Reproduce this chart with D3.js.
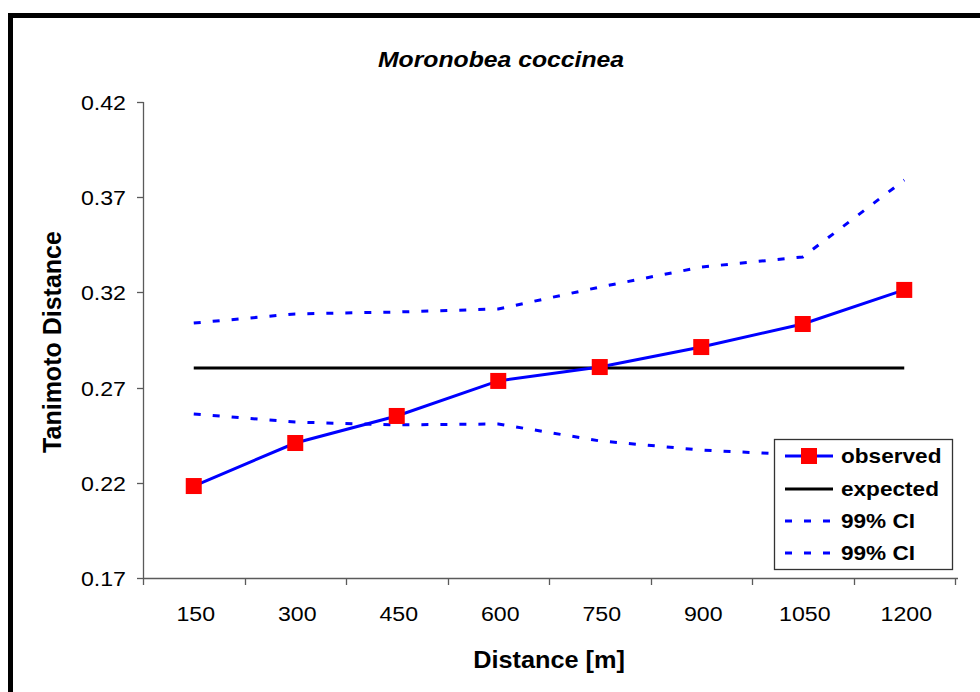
<!DOCTYPE html>
<html><head><meta charset="utf-8">
<script src="https://cdnjs.cloudflare.com/ajax/libs/d3/7.8.5/d3.min.js"></script>
<style>body{margin:0;background:#fff}svg{display:block}text{font-family:Arial,"Liberation Sans",sans-serif}</style>
</head><body><div id="chart"></div>
<script>
const categories = ["150","300","450","600","750","900","1050","1200"];
const observed = [0.2183,0.2409,0.2551,0.2735,0.2808,0.2913,0.3034,0.3213];
const expected = [0.2803,0.2803,0.2803,0.2803,0.2803,0.2803,0.2803,0.2803];
const ciUpper = [0.3039,0.3087,0.3097,0.3113,0.3228,0.3333,0.3386,0.3790];
const ciLower = [0.2561,0.2519,0.2504,0.2509,0.2420,0.2372,0.2346,0.2310];
const yTicks = [0.17,0.22,0.27,0.32,0.37,0.42];
const title = "Moronobea coccinea";
const xTitle = "Distance [m]";
const yTitle = "Tanimoto Distance";
const legendLabels = ["observed","expected","99% CI","99% CI"];

const W=980,H=692, SX=1.13;
const svg=d3.select("#chart").append("svg").attr("width",W).attr("height",H);
svg.append("rect").attr("width",W).attr("height",H).attr("fill","#fff");
// frame
svg.append("path").attr("d","M10.5,692 L10.5,15.5 L980,15.5").attr("fill","none").attr("stroke","#000").attr("stroke-width",5);

const x=d3.scaleBand().domain(categories).range([143,955]);
const y=d3.scaleLinear().domain([0.17,0.42]).range([578,102]);
const cx=c=>x(c)+x.bandwidth()/2;

function stext(g,xx,yy,str,opts){
  const t=g.append("text").attr("transform",`translate(${xx},${yy}) scale(${opts.sx||SX},1)`)
   .attr("text-anchor",opts.anchor||"start").attr("font-size",opts.size||20.5)
   .attr("font-weight",opts.weight||"normal").attr("font-style",opts.style||"normal").attr("fill","#000").text(str);
  return t;
}

const axisCol="#5a5a5a";
// y axis
svg.append("line").attr("x1",143.5).attr("x2",143.5).attr("y1",y(0.42)).attr("y2",y(0.17)).attr("stroke",axisCol).attr("stroke-width",1.3);
yTicks.forEach(v=>{
  const yy=Math.round(y(v))+0.5;
  svg.append("line").attr("x1",137).attr("x2",143.5).attr("y1",yy).attr("y2",yy).attr("stroke",axisCol).attr("stroke-width",1.3);
  stext(svg,126,yy+7.5,v.toFixed(2),{anchor:"end"});
});
// x axis
svg.append("line").attr("x1",143).attr("x2",958).attr("y1",578.5).attr("y2",578.5).attr("stroke",axisCol).attr("stroke-width",1.3);
const bounds=categories.map(c=>x(c)).concat([x.range()[1]]);
bounds.forEach(b=>{
  const bx=Math.round(b)+0.5;
  svg.append("line").attr("x1",bx).attr("x2",bx).attr("y1",578.5).attr("y2",585).attr("stroke",axisCol).attr("stroke-width",1.3);
});
categories.forEach(c=>stext(svg,cx(c)+2,621,c,{anchor:"middle"}));

// titles
stext(svg,501,67,title,{anchor:"middle",size:22.5,weight:"bold",style:"italic",sx:1.1});
stext(svg,549,668,xTitle,{anchor:"middle",size:23,weight:"bold",sx:1.1});
svg.append("text").attr("transform","translate(61,342) rotate(-90)").attr("text-anchor","middle")
  .attr("font-size",25).attr("font-weight","bold").text(yTitle);

const line=d3.line().x((d,i)=>cx(categories[i])).y(d=>y(d));
const dash="7,12";
svg.append("path").attr("d",line(ciUpper)).attr("fill","none").attr("stroke","#0000ff").attr("stroke-width",3).attr("stroke-dasharray",dash);
svg.append("path").attr("d",line(ciLower)).attr("fill","none").attr("stroke","#0000ff").attr("stroke-width",3).attr("stroke-dasharray",dash);
svg.append("path").attr("d",line(expected)).attr("fill","none").attr("stroke","#000").attr("stroke-width",3);
svg.append("path").attr("d",line(observed)).attr("fill","none").attr("stroke","#0000ff").attr("stroke-width",3);
const ms=16;
svg.selectAll("rect.m").data(observed).enter().append("rect").attr("class","m")
  .attr("x",(d,i)=>cx(categories[i])-ms/2).attr("y",d=>y(d)-ms/2).attr("width",ms).attr("height",ms).attr("fill","#ff0000");

// legend
const lg=svg.append("g");
lg.append("rect").attr("x",774.5).attr("y",439.5).attr("width",178).attr("height",130).attr("fill","#fff").attr("stroke","#333").attr("stroke-width",1.3);
const ly=[456,489,521,553];
const styles=[{c:"#0000ff",d:null,m:true},{c:"#000",d:null},{c:"#0000ff",d:dash},{c:"#0000ff",d:dash}];
legendLabels.forEach((lab,i)=>{
  const s=styles[i];
  const l=lg.append("line").attr("x1",785).attr("x2",833).attr("y1",ly[i]).attr("y2",ly[i]).attr("stroke",s.c).attr("stroke-width",3);
  if(s.d) l.attr("stroke-dasharray",s.d);
  if(s.m) lg.append("rect").attr("x",809-8).attr("y",ly[i]-8).attr("width",16).attr("height",16).attr("fill","#ff0000");
  stext(lg,841,ly[i]+7,lab,{weight:"bold",size:20});
});
</script></body></html>
